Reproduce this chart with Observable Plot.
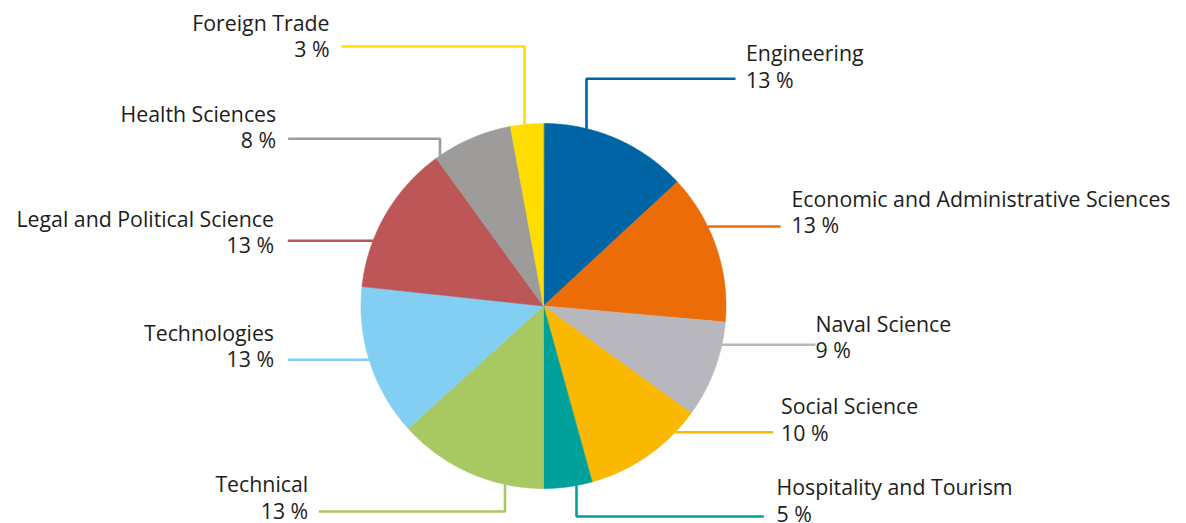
<!DOCTYPE html>
<html>
<head>
<meta charset="utf-8">
<script src="https://cdn.jsdelivr.net/npm/d3@7"></script>
<script src="https://cdn.jsdelivr.net/npm/@observablehq/plot@0.6"></script>
<style>
  html, body { margin: 0; padding: 0; background: #ffffff; overflow: hidden; }
  #chart svg { display: block; }
</style>
</head>
<body>
<div id="chart"></div>
<script>
// ---- Data ----
const categories = [
  "Engineering",
  "Economic and Administrative Sciences",
  "Naval Science",
  "Social Science",
  "Hospitality and Tourism",
  "Technical",
  "Technologies",
  "Legal and Political Science",
  "Health Sciences",
  "Foreign Trade"
];
// slice sizes (share of the whole, %), measured from the slice angles
const shares = [13.1, 13.3, 8.6, 10.7, 4.3, 13.3, 13.4, 13.3, 7.1, 2.9];
// percentage labels as printed on the chart
const percentLabels = ["13 %", "13 %", "9 %", "10 %", "5 %", "13 %", "13 %", "13 %", "8 %", "3 %"];
const colors = ["#0065A4", "#EC6C08", "#B8B7BD", "#FAB900", "#00A19A", "#A8C862", "#82CFF3", "#BC5657", "#9D9C9A", "#FFDD00"];

// ---- Layout (label placement, not data) ----
const W = 1186, H = 523;
const cx = 543, cy = 305.5, R = 182.5;
// lineY: leader horizontal level, endX: leader end, elbowX: vertical leg x (null = straight),
// textX: text anchor x, baseY: baseline of the percentage line, side: text anchor
const labelLayout = [
  {lineY: 78.3,  endX: 735,   elbowX: 586,   textX: 745.5, baseY: 87.3,  side: "start"},
  {lineY: 226,   endX: 780,   elbowX: null,  textX: 791,   baseY: 232.7, side: "start"},
  {lineY: 344.3, endX: 815,   elbowX: null,  textX: 815,   baseY: 357.7, side: "start"},
  {lineY: 431.7, endX: 772.7, elbowX: null,  textX: 780.5, baseY: 440,   side: "start"},
  {lineY: 516,   endX: 763.3, elbowX: 576,   textX: 776,   baseY: 521.3, side: "start"},
  {lineY: 511,   endX: 318.3, elbowX: 504.5, textX: 307.7, baseY: 518.3, side: "end"},
  {lineY: 359.3, endX: 287.3, elbowX: null,  textX: 273.5, baseY: 366.7, side: "end"},
  {lineY: 240.3, endX: 287.3, elbowX: null,  textX: 273.5, baseY: 252.7, side: "end"},
  {lineY: 138.3, endX: 287.7, elbowX: 439.5, textX: 275.7, baseY: 147.7, side: "end"},
  {lineY: 46,    endX: 341,   elbowX: 524,   textX: 329,   baseY: 56.7,  side: "end"}
];

// ---- Build tables from the arrays ----
const rows = categories.map((name, i) => ({name, share: shares[i], pct: percentLabels[i], color: colors[i], layout: labelLayout[i]}));
const arcs = d3.pie().sort(null).value(d => d.share)(rows);

const slicePoints = [];
arcs.forEach(a => {
  const steps = Math.max(4, Math.ceil((a.endAngle - a.startAngle) / (Math.PI / 360)));
  slicePoints.push({name: a.data.name, color: a.data.color, x: cx, y: cy});
  for (let k = 0; k <= steps; k++) {
    const t = a.startAngle + (a.endAngle - a.startAngle) * k / steps;
    slicePoints.push({name: a.data.name, color: a.data.color, x: cx + R * Math.sin(t), y: cy - R * Math.cos(t)});
  }
});

const leaderPoints = [];
rows.forEach(r => {
  const L = r.layout;
  if (L.elbowX != null) {
    const dx = L.elbowX - cx;
    const h = Math.sqrt(R * R - dx * dx);
    const sy = L.lineY < cy ? cy - h : cy + h;
    leaderPoints.push({name: r.name, color: r.color, x: L.elbowX, y: sy});
    leaderPoints.push({name: r.name, color: r.color, x: L.elbowX, y: L.lineY});
  } else {
    const dy = L.lineY - cy;
    const w = Math.sqrt(R * R - dy * dy);
    const sx = L.endX > cx ? cx + w : cx - w;
    leaderPoints.push({name: r.name, color: r.color, x: sx, y: L.lineY});
  }
  leaderPoints.push({name: r.name, color: r.color, x: L.endX, y: L.lineY});
});

const labelRows = rows.map(r => ({text: r.name + "\n" + r.pct, x: r.layout.textX, y: r.layout.baseY, side: r.layout.side}));

const font = "'Open Sans', 'Noto Sans', sans-serif";

const chart = Plot.plot({
  width: W,
  height: H,
  margin: 0,
  x: {domain: [0, W], range: [0, W], axis: null},
  y: {domain: [0, H], range: [0, H], axis: null},
  color: {type: "identity"},
  style: {fontFamily: font, background: "#ffffff"},
  marks: [
    Plot.line(leaderPoints, {x: "x", y: "y", z: "name", stroke: "color", strokeWidth: 2.6, strokeLinejoin: "miter", strokeLinecap: "butt"}),
    Plot.line(slicePoints, {x: "x", y: "y", z: "name", fill: "color", stroke: "color", strokeWidth: 0.6, curve: "linear-closed"}),
    Plot.text(labelRows.filter(d => d.side === "start"), {x: "x", y: "y", text: "text", textAnchor: "start", lineAnchor: "bottom", lineHeight: 1.245, fontSize: 21.3, fill: "#1d1d1b"}),
    Plot.text(labelRows.filter(d => d.side === "end"), {x: "x", y: "y", text: "text", textAnchor: "end", lineAnchor: "bottom", lineHeight: 1.245, fontSize: 21.3, fill: "#1d1d1b"})
  ]
});
document.getElementById("chart").appendChild(chart);
</script>
</body>
</html>
